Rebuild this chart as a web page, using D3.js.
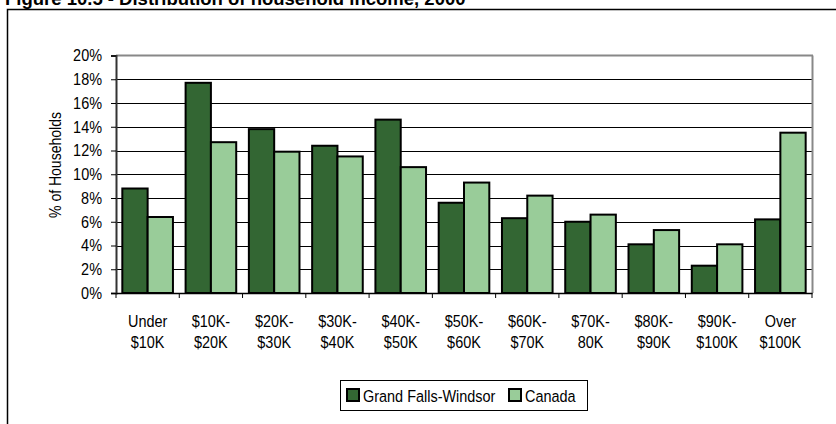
<!DOCTYPE html>
<html>
<head>
<meta charset="utf-8">
<script src="https://cdn.jsdelivr.net/npm/d3@7"></script>
<style>
  html, body { margin: 0; padding: 0; background: #fff; }
  svg { display: block; }
</style>
</head>
<body>
<svg id="chart" width="836" height="424"></svg>
<script>
const title = "Figure 10.5 - Distribution of household income, 2000";
const categories = [["Under", "$10K"], ["$10K-", "$20K"], ["$20K-", "$30K"], ["$30K-", "$40K"], ["$40K-", "$50K"],
  ["$50K-", "$60K"], ["$60K-", "$70K"], ["$70K-", "80K"], ["$80K-", "$90K"], ["$90K-", "$100K"], ["Over", "$100K"]];
const seriesNames = ["Grand Falls-Windsor", "Canada"];
const grandFallsWindsor = [8.8, 17.7, 13.8, 12.4, 14.6, 7.6, 6.3, 6.0, 4.1, 2.3, 6.2];
const canada = [6.4, 12.7, 11.9, 11.5, 10.6, 9.3, 8.2, 6.6, 5.3, 4.1, 13.5];
const yTicks = [0, 2, 4, 6, 8, 10, 12, 14, 16, 18, 20];
const yTitle = "% of Households";
const colors = ["#336633", "#99CC99"];

(function () {
const seriesValues = [grandFallsWindsor, canada];
const catKeys = categories.map(c => c.join(" "));

const svg = d3.select("#chart");
const font = "'Liberation Sans', Arial, sans-serif";
const K = 0.85; // horizontal condensing to imitate a narrow face
const fs = 17;

// outer frame
svg.append("rect").attr("x", 7.5).attr("y", 9.5).attr("width", 840).attr("height", 430)
  .attr("fill", "none").attr("stroke", "#000").attr("stroke-width", 1.5);

// title (clipped at top, as in the reference)
svg.append("text").attr("x", 5).attr("y", 5)
  .attr("font-family", font).attr("font-weight", "bold")
  .attr("font-size", 18.5).attr("fill", "#000").text(title);

const pLeft = 116, pRight = 812, pTop = 55.5, pBottom = 293;
const y = d3.scaleLinear().domain([0, 20]).range([pBottom, pTop]);
const x = d3.scaleBand().domain(catKeys).range([pLeft, pRight]).paddingInner(0.2).paddingOuter(0.1);
const xs = d3.scaleBand().domain(seriesNames).range([0, x.bandwidth()]).padding(0);

// gridlines
svg.append("g").selectAll("line").data(yTicks.filter(t => t > 0 && t < 20)).join("line")
  .attr("x1", pLeft).attr("x2", pRight)
  .attr("y1", d => Math.round(y(d)) + 0.5).attr("y2", d => Math.round(y(d)) + 0.5)
  .attr("stroke", "#000").attr("stroke-width", 1);

// plot frame top & right (gray)
svg.append("line").attr("x1", pLeft).attr("x2", pRight + 1).attr("y1", pTop).attr("y2", pTop)
  .attr("stroke", "#888").attr("stroke-width", 2);
svg.append("line").attr("x1", pRight + 0.5).attr("x2", pRight + 0.5).attr("y1", pTop).attr("y2", pBottom)
  .attr("stroke", "#888").attr("stroke-width", 2);

// bars
const groups = svg.append("g").selectAll("g").data(catKeys).join("g")
  .attr("transform", d => `translate(${x(d)},0)`);
groups.selectAll("rect").data((d, i) => seriesNames.map((s, j) => ({ s, v: seriesValues[j][i], j }))).join("rect")
  .attr("x", d => xs(d.s))
  .attr("width", xs.bandwidth())
  .attr("y", d => y(d.v))
  .attr("height", d => pBottom - y(d.v))
  .attr("fill", d => colors[d.j])
  .attr("stroke", "#000").attr("stroke-width", 2);

// y axis
const yAxis = d3.axisLeft(y).tickValues(yTicks).tickFormat(d => d + "%").tickSize(5).tickPadding(9);
const gy = svg.append("g").attr("transform", `translate(${pLeft},0)`).call(yAxis);
gy.select(".domain").attr("stroke", "#333").attr("stroke-width", 2);
gy.selectAll(".tick line").attr("stroke", "#000");
gy.selectAll(".tick text")
  .attr("font-family", font).attr("font-size", fs).attr("fill", "#000")
  .attr("x", -14 / K).attr("transform", `scale(${K},1)`);

// x axis
const xAxis = d3.axisBottom(x).tickSize(0).tickFormat("");
const gx = svg.append("g").attr("transform", `translate(0,${pBottom})`).call(xAxis);
gx.select(".domain").attr("stroke", "#000").attr("stroke-width", 1.5);
const boundaries = d3.range(catKeys.length + 1).map(i => pLeft + i * (pRight - pLeft) / catKeys.length);
gx.append("g").selectAll("line").data(boundaries).join("line")
  .attr("x1", d => d).attr("x2", d => d).attr("y1", 0).attr("y2", 5).attr("stroke", "#000");
const lab = gx.append("g").selectAll("text").data(categories).join("text")
  .attr("transform", `scale(${K},1)`)
  .attr("data-cx", (d, i) => (x(catKeys[i]) + x.bandwidth() / 2) / K)
  .attr("text-anchor", "middle")
  .attr("font-family", font).attr("font-size", fs).attr("fill", "#000");
lab.selectAll("tspan").data(d => d).join("tspan")
  .attr("x", function () { return this.parentNode.getAttribute("data-cx"); })
  .attr("y", (d, k) => 34 + k * 21.5)
  .text(d => d);

// y title
svg.append("text")
  .attr("transform", `translate(61,165) rotate(-90) scale(${K},1)`)
  .attr("text-anchor", "middle")
  .attr("font-family", font).attr("font-size", 16.5).attr("fill", "#000")
  .text(yTitle);

// legend
const lg = svg.append("g");
lg.append("rect").attr("x", 340.5).attr("y", 380.5).attr("width", 247).attr("height", 30)
  .attr("fill", "#fff").attr("stroke", "#000").attr("stroke-width", 1);
const legendX = [347, 509];
const li = lg.selectAll("g").data(seriesNames).join("g")
  .attr("transform", (d, i) => `translate(${legendX[i]},389)`);
li.append("rect").attr("width", 12).attr("height", 12)
  .attr("fill", (d, i) => colors[i]).attr("stroke", "#000").attr("stroke-width", 2);
li.append("text").attr("x", 16 / K).attr("y", 12.5)
  .attr("transform", `scale(${K},1)`)
  .attr("font-family", font).attr("font-size", fs).attr("fill", "#000")
  .text(d => d);
})();
</script>
</body>
</html>
